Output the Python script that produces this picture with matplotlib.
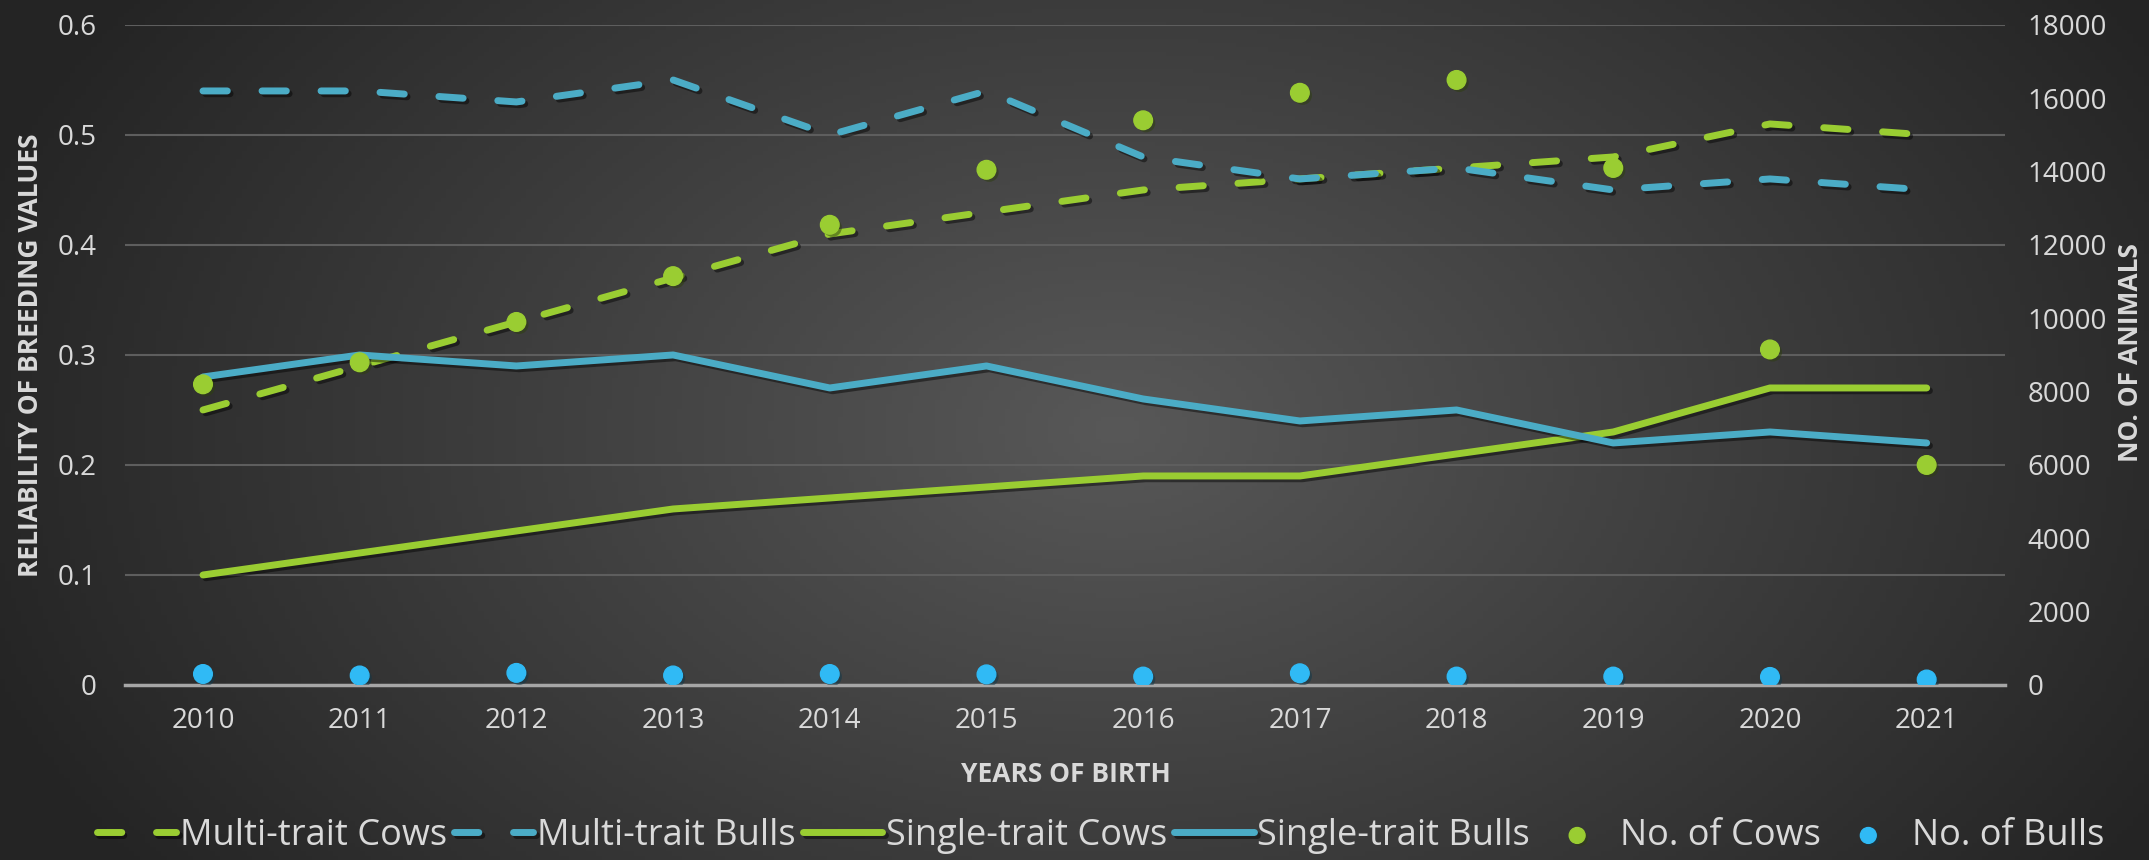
import numpy as np
import matplotlib
matplotlib.use("Agg")
import matplotlib.pyplot as plt
import matplotlib.patheffects as pe
from matplotlib import font_manager

# данные
years = [2010, 2011, 2012, 2013, 2014, 2015, 2016, 2017, 2018, 2019, 2020, 2021]
multi_cows = [0.25, 0.29, 0.33, 0.37, 0.41, 0.43, 0.45, 0.46, 0.47, 0.48, 0.51, 0.50]
multi_bulls = [0.54, 0.54, 0.53, 0.55, 0.50, 0.54, 0.48, 0.46, 0.47, 0.45, 0.46, 0.45]
single_cows = [0.10, 0.12, 0.14, 0.16, 0.17, 0.18, 0.19, 0.19, 0.21, 0.23, 0.27, 0.27]
single_bulls = [0.28, 0.30, 0.29, 0.30, 0.27, 0.29, 0.26, 0.24, 0.25, 0.22, 0.23, 0.22]
n_cows = [8200, 8800, 9900, 11150, 12550, 14050, 15400, 16150, 16500, 14100, 9150, 6000]
n_bulls = [300, 260, 330, 260, 300, 290, 230, 320, 230, 230, 220, 150]

left_ticks = [0, 0.1, 0.2, 0.3, 0.4, 0.5, 0.6]
right_ticks = list(range(0, 18001, 2000))

GREEN = '#9ACD32'
BLUE_LINE = '#4BACC6'
BLUE_DOT = '#30BAF5'
TXT = '#D9D9D9'

names = {f.name for f in font_manager.fontManager.ttflist}
plt.rcParams['font.family'] = ['Open Sans' if 'Open Sans' in names else 'DejaVu Sans', 'DejaVu Sans']

fig = plt.figure(figsize=(21.49, 8.6), dpi=100)

# фон: радиальный градиент
bg = fig.add_axes([0, 0, 1, 1], zorder=-10)
gx, gy = np.meshgrid(np.linspace(0, 1, 400), np.linspace(0, 1, 200))
d = np.sqrt(((gx - 0.52) / 0.55) ** 2 + ((gy - 0.5) / 0.9) ** 2)
g = 0x58 / 255 - (0x58 - 0x25) / 255 * np.clip(d, 0, 1)
bg.imshow(np.dstack([g, g, g]), extent=[0, 1, 0, 1], aspect='auto', origin='lower')
bg.axis('off')

ax = fig.add_axes([0.058, 0.2035, 0.875, 0.7675])
ax.set_facecolor('none')
x = np.arange(len(years))

shadow = [pe.SimpleLineShadow(offset=(2, -2), alpha=0.45, shadow_color='black'), pe.Normal()]

l1, = ax.plot(x, multi_cows, color=GREEN, lw=5, dashes=(3.5, 5), dash_capstyle='round',
              solid_capstyle='round', label='Multi-trait Cows', path_effects=shadow)
l2, = ax.plot(x, multi_bulls, color=BLUE_LINE, lw=5, dashes=(3.5, 5), dash_capstyle='round',
              solid_capstyle='round', label='Multi-trait Bulls', path_effects=shadow)
l3, = ax.plot(x, single_cows, color=GREEN, lw=5, solid_capstyle='round',
              label='Single-trait Cows', path_effects=shadow)
l4, = ax.plot(x, single_bulls, color=BLUE_LINE, lw=5, solid_capstyle='round',
              label='Single-trait Bulls', path_effects=shadow)

ax.set_xlim(-0.5, len(years) - 0.5)
ax.set_ylim(0, 0.6)
ax.set_yticks(left_ticks)
ax.set_yticklabels(['0', '0.1', '0.2', '0.3', '0.4', '0.5', '0.6'])
ax.set_xticks(x)
ax.set_xticklabels([str(y) for y in years])
ax.grid(axis='y', color='#5E5E5E', lw=1.5)
ax.set_axisbelow(True)
for s in ['top', 'left', 'right']:
    ax.spines[s].set_visible(False)
ax.spines['bottom'].set_color('#A6A6A6')
ax.spines['bottom'].set_linewidth(2.5)
ax.tick_params(axis='both', length=0, colors=TXT, labelsize=20)
ax.tick_params(axis='x', pad=16)
ax.tick_params(axis='y', pad=20)

ax2 = ax.twinx()
ax2.set_ylim(0, 18000)
ax2.set_yticks(right_ticks)
ax2.tick_params(axis='y', length=0, colors=TXT, labelsize=20, pad=16)
for s in ['top', 'left', 'right', 'bottom']:
    ax2.spines[s].set_visible(False)
dot_shadow = [pe.SimplePatchShadow(offset=(2, -2), alpha=0.5), pe.Normal()]
s1 = ax2.scatter(x, n_cows, s=180, color=GREEN, zorder=5, label='No. of Cows', path_effects=dot_shadow)
s2 = ax2.scatter(x, n_bulls, s=180, color=BLUE_DOT, zorder=5, label='No. of Bulls', path_effects=dot_shadow)

fig.text(0.014, 0.587, 'RELIABILITY OF BREEDING VALUES', rotation=90, ha='center', va='center',
         fontsize=19, fontweight='bold', color=TXT)
fig.text(0.9916, 0.59, 'NO. OF ANIMALS', rotation=90, ha='center', va='center',
         fontsize=19, fontweight='bold', color=TXT)
fig.text(0.496, 0.10, 'YEARS OF BIRTH', ha='center', va='center',
         fontsize=19, fontweight='bold', color=TXT)

leg = fig.legend([l1, l2, l3, l4, s1, s2],
                 ['Multi-trait Cows', 'Multi-trait Bulls', 'Single-trait Cows', 'Single-trait Bulls',
                  'No. of Cows', 'No. of Bulls'],
                 loc='center', bbox_to_anchor=(0.512, 0.028), ncol=6, frameon=False,
                 fontsize=26, handlelength=2.2, handletextpad=0.1, columnspacing=0.2,
                 markerscale=0.85)
for t in leg.get_texts():
    t.set_color(TXT)

fig.savefig('out.png', dpi=100)
